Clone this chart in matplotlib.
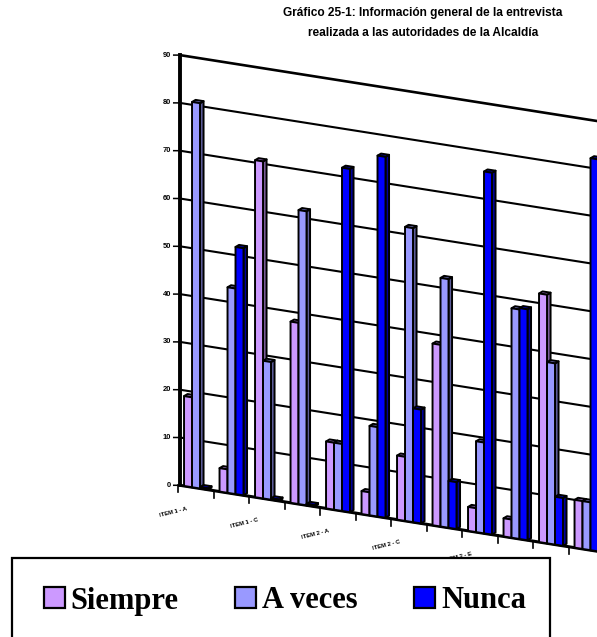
import matplotlib
matplotlib.use('Agg')
import matplotlib.pyplot as plt
from matplotlib.patches import Patch, Polygon
from matplotlib.transforms import Affine2D

# values
categories = ['ITEM 1 - A', 'ITEM 1 - B', 'ITEM 1 - C', 'ITEM 1 - D', 'ITEM 2 - A', 'ITEM 2 - B',
              'ITEM 2 - C', 'ITEM 2 - D', 'ITEM 2 - E', 'ITEM 2 - F', 'ITEM 3 - A', 'ITEM 3 - B']
siempre = [18.8, 4.9, 70.5, 37.9, 14, 4.8, 13.4, 38, 5, 3.8, 52, 10]
a_veces = [80.6, 43, 28.8, 61.5, 14, 18.7, 61.5, 52, 19, 48, 37.9, 10]
nunca = [0.3, 51.7, 0.3, 0.3, 71.8, 75.5, 23.8, 9.8, 75.7, 48.3, 10, 82]
y_ticks = [0, 10, 20, 30, 40, 50, 60, 70, 80, 90]

series = [
    ('Siempre', siempre, '#CC99FF', '#7A5C99', '#A57ACC'),
    ('A veces', a_veces, '#9999FF', '#5C5C99', '#7A7ACC'),
    ('Nunca', nunca, '#0000FF', '#000099', '#0000CC'),
]

fig = plt.figure(figsize=(5.97, 6.37), dpi=100)
ax = fig.add_axes([0, 0, 1, 1])
ax.axis('off')

# oblique chart space: x in categories, y in chart units
chart = Affine2D.from_values(35.5, 35.5 * 0.158, 0, -4.78, 178, 485) + ax.transData

BAR_START = 0.17
BAR_W = 0.225
DEPTH_X = 0.1
DEPTH_Y = 0.55

# gridlines and axes
for t in y_ticks:
    lw = 1.9 if t == 90 else (2.2 if t == 0 else 1.5)
    ax.plot([0.056, 13], [t, t], color='black', lw=lw, transform=chart, zorder=1, solid_capstyle='butt')
    ax.plot([-0.12, 0.056], [t - 0.2, t], color='black', lw=1.1, transform=chart, zorder=1)
    ax.annotate(str(t), xy=(0.056, t), xycoords=chart, xytext=(-9, 0), textcoords='offset pixels',
                ha='right', va='center', fontsize=5.4, fontweight='bold', family='Liberation Sans', zorder=2)
ax.plot([0.056, 0.056], [0, 90], color='black', lw=2.8, transform=chart, zorder=1, solid_capstyle='projecting')

for i in range(len(categories) + 1):
    ax.plot([i, i], [0, -1.5], color='black', lw=1.2, transform=chart, zorder=1)

for i, label in enumerate(categories):
    if i % 2 == 0:
        ax.annotate(label, xy=(i + 0.5, 0), xycoords=chart, xytext=(-22, -24), textcoords='offset pixels',
                    ha='center', va='center', rotation=14, fontsize=4.2, fontweight='bold',
                    family='Liberation Sans', zorder=2)

# bars, left to right so the later ones sit over the earlier ones
for i in range(len(categories)):
    for j, (name, values, face, side, top) in enumerate(series):
        x0 = i + BAR_START + j * BAR_W
        x1 = x0 + BAR_W
        v = values[i]
        z = 3 + i + j * 0.1
        style = dict(edgecolor='black', lw=1.4, joinstyle='round', transform=chart, zorder=z)
        ax.add_patch(Polygon([(x1, 0), (x1 + DEPTH_X, DEPTH_Y), (x1 + DEPTH_X, v + DEPTH_Y), (x1, v)],
                             facecolor=side, **style))
        ax.add_patch(Polygon([(x0, v), (x0 + DEPTH_X, v + DEPTH_Y), (x1 + DEPTH_X, v + DEPTH_Y), (x1, v)],
                             facecolor=top, **style))
        ax.add_patch(Polygon([(x0, 0), (x1, 0), (x1, v), (x0, v)], facecolor=face, **style))

ax.set_xlim(0, 597)
ax.set_ylim(637, 0)

fig.text(423 / 597, 1 - 13 / 637, 'Gráfico 25-1: Información general de la entrevista',
         ha='center', va='center', fontsize=8.6, fontweight='bold', family='Liberation Sans')
fig.text(423 / 597, 1 - 33 / 637, 'realizada a las autoridades de la Alcaldía',
         ha='center', va='center', fontsize=8.6, fontweight='bold', family='Liberation Sans')

# legend box runs off the bottom of the picture
ax.add_patch(plt.Rectangle((11.5, 558), 538.5, 90, facecolor='white', edgecolor='black', lw=1.6, zorder=49))
handles = [Patch(facecolor=s[2], edgecolor='black', lw=1.6, label=s[0]) for s in series]
leg = ax.legend(handles=handles, ncol=3, loc='center', bbox_to_anchor=(285, 601), bbox_transform=ax.transData,
                prop={'family': 'Liberation Serif', 'weight': 'bold', 'size': 22},
                frameon=False, handlelength=0.68, handleheight=0.68, handletextpad=0.2,
                columnspacing=1.85, borderpad=0, borderaxespad=0)
leg.set_zorder(50)

fig.savefig('out.png', dpi=100)
